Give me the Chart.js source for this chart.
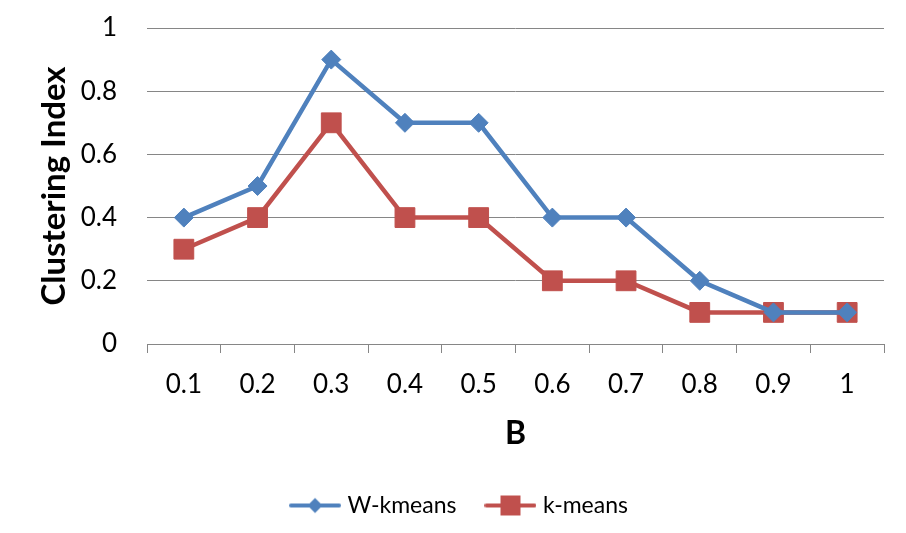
<!DOCTYPE html>
<html>
<head>
<meta charset="utf-8">
<script src="https://cdn.jsdelivr.net/npm/chart.js@4/dist/chart.umd.min.js"></script>
<style>
    html, body { margin: 0; padding: 0; background: #fff; }
    #wrap { width: 906px; height: 533px; }
</style>
</head>
<body>
<div id="wrap"><canvas id="chart" width="906" height="533"></canvas></div>
<script>
// data
const bValues = ["0.1", "0.2", "0.3", "0.4", "0.5", "0.6", "0.7", "0.8", "0.9", "1"];
const wKmeans = [0.4, 0.5, 0.9, 0.7, 0.7, 0.4, 0.4, 0.2, 0.1, 0.1];
const kMeans = [0.3, 0.4, 0.7, 0.4, 0.4, 0.2, 0.2, 0.1, 0.1, 0.1];
const yTicks = [0, 0.2, 0.4, 0.6, 0.8, 1];

const BLUE = "#4F81BD";
const RED = "#C0504D";
const GRID = "#868686";
const FONT = "Lato, 'Open Sans', sans-serif";

// legend swatch: line with the marker in the middle
function legendSwatch(color, shape)
{
    const c = document.createElement("canvas");
    c.width = 52;
    c.height = 22;
    const g = c.getContext("2d");
    g.strokeStyle = color;
    g.lineWidth = 4;
    g.lineCap = "round";
    g.beginPath();
    g.moveTo(2, 11);
    g.lineTo(50, 11);
    g.stroke();
    g.fillStyle = color;
    g.beginPath();
    if (shape === "diamond") {
        g.moveTo(26, 3.5);
        g.lineTo(33.5, 11);
        g.lineTo(26, 18.5);
        g.lineTo(18.5, 11);
    } else {
        g.rect(16, 1, 20, 20);
    }
    g.closePath();
    g.fill();
    return c;
}

const swatches = [legendSwatch(BLUE, "diamond"), legendSwatch(RED, "square")];

const PAD_LEFT = 38; // pushes the centred legend to the right

new Chart(document.getElementById("chart"), {
    type: "line",
    data: {
        labels: bValues,
        datasets: [
            {
                label: "W-kmeans",
                data: wKmeans,
                borderColor: BLUE,
                backgroundColor: BLUE,
                borderWidth: 4.5,
                pointStyle: "rectRot",
                pointRadius: 9.5,
                pointBorderWidth: 1,
                tension: 0
            },
            {
                label: "k-means",
                data: kMeans,
                borderColor: RED,
                backgroundColor: RED,
                borderWidth: 4.5,
                pointStyle: "rect",
                pointRadius: 14,
                pointBorderWidth: 1,
                tension: 0
            }
        ]
    },
    options: {
        responsive: false,
        animation: false,
        layout: { padding: { top: 28, right: 22, bottom: 6, left: PAD_LEFT } },
        plugins: {
            tooltip: { enabled: false },
            legend: {
                position: "bottom",
                labels: {
                    usePointStyle: true,
                    pointStyleWidth: 42,
                    padding: 33,
                    color: "#000",
                    font: { family: FONT, size: 23 },
                    generateLabels: (chart) => chart.data.datasets.map((ds, i) => ({
                        text: ds.label,
                        pointStyle: swatches[i],
                        fillStyle: ds.borderColor,
                        strokeStyle: ds.borderColor,
                        lineWidth: 0,
                        fontColor: "#000",
                        datasetIndex: i
                    }))
                }
            }
        },
        scales: {
            x: {
                offset: true,
                grid: {
                    offset: true,
                    drawOnChartArea: false,
                    drawTicks: true,
                    tickLength: 9,
                    color: GRID
                },
                border: { display: true, color: GRID },
                ticks: {
                    color: "#000",
                    padding: 16,
                    maxRotation: 0,
                    font: { family: FONT, size: 26 }
                },
                title: {
                    display: true,
                    text: "B",
                    color: "#000",
                    padding: { top: 0, bottom: 8 },
                    font: { family: FONT, size: 32, weight: "bold" }
                },
                afterFit: (scale) => {
                    const legendH = scale.chart.legend ? scale.chart.legend.height : 0;
                    scale.height = 533 - 344 - legendH - 6;
                }
            },
            y: {
                min: 0,
                max: 1,
                afterBuildTicks: (scale) => {
                    scale.ticks = yTicks.map((v) => ({ value: v }));
                },
                grid: {
                    drawTicks: true,
                    tickLength: 30,
                    tickColor: "rgba(0,0,0,0)",
                    color: GRID
                },
                border: { display: false },
                ticks: {
                    color: "#000",
                    padding: 0,
                    font: { family: FONT, size: 26 },
                    callback: (v) => String(Math.round(v * 10) / 10)
                },
                title: {
                    display: true,
                    text: "Clustering Index",
                    color: "#000",
                    padding: { top: -3, bottom: 0 },
                    font: { family: FONT, size: 33, weight: "bold" }
                },
                afterFit: (scale) => {
                    scale.width = 147 - PAD_LEFT;
                }
            }
        }
    }
});
</script>
</body>
</html>
